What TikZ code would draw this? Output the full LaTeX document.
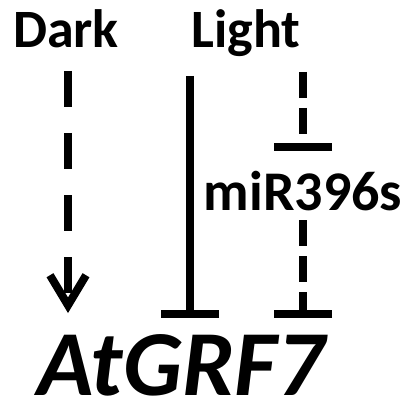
\documentclass[tikz,border=0pt]{standalone}
\usepackage{fontspec}
\setmainfont{Carlito}
\usetikzlibrary{arrows.meta}

\begin{document}
\begin{tikzpicture}[
    x=1pt, y=-1pt,
    every node/.style={inner sep=0pt, anchor=base},
    tag/.style={font=\fontsize{#1}{#1}\selectfont\bfseries},
    tag/.default=54,
    act/.style={line width=8pt, dash pattern=on 36pt off 26pt, -{Straight Barb[length=30pt, width=36pt]}},
    block/.style={line width=8pt, -{Bar[width=58pt]}},
    blockdash/.style={block, dash pattern=on 26pt off 10pt}
]
    \useasboundingbox (0,0) rectangle (406,403);

    % Signals
    \node[tag] (dark) at (66,48) {Dark};
    \node[tag] (light) at (246,48) {Light};
    \node[tag=56] (mir) at (303,210) {miR396s};

    % Target gene
    \node[font=\fontsize{93}{93}\selectfont\bfseries\itshape] (gene) at (181,395) {AtGRF7};

    % Connector ends
    \coordinate (darkfrom) at (68,71);
    \coordinate (darkto) at (68,313);
    \coordinate (lightfrom) at (190,76);
    \coordinate (lightto) at (190,318);
    \coordinate (mirin) at (303,72);
    \coordinate (mirbar) at (303,151);
    \coordinate (mirfrom) at (303,220);
    \coordinate (mirto) at (303,318);

    % Arrows
    \draw[act] (darkfrom) -- (darkto);
    \draw[block] (lightfrom) -- (lightto);
    \draw[blockdash] (mirin) -- (mirbar);
    \draw[blockdash] (mirfrom) -- (mirto);
\end{tikzpicture}
\end{document}
